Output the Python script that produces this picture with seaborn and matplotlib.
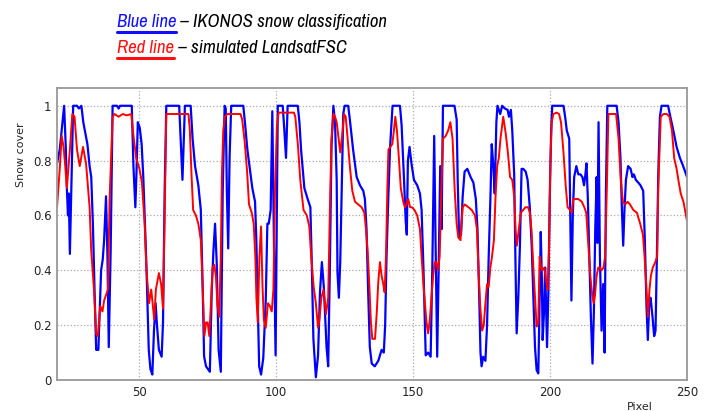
import matplotlib
matplotlib.use('Agg')
from matplotlib import pyplot as plt
from matplotlib import font_manager
from matplotlib.lines import Line2D
import seaborn as sns

# IKONOS snow classification (blue), vertices
blue_x = [20, 21, 22.6, 23.2, 23.6, 24.0, 24.3, 24.7, 25.9, 27.3, 28.0, 28.9, 29.6, 31.1, 31.9, 32.5,
          33.1, 33.7, 34.3, 35.1, 36.1, 36.7, 37.2, 37.9, 38.4, 38.9, 39.6, 40.3, 41.9, 42.5, 43.0,
          47.3, 47.9, 48.6, 49.0, 49.5, 50.2, 50.9, 51.5, 52.0, 52.6, 53.5, 54.1, 54.8, 55.4, 56.0,
          56.5, 57.2, 58.2, 58.7, 59.3, 59.9, 64.6, 65.8, 66.7, 68.8, 69.5, 70.4, 71.6, 72.5, 73.2,
          73.7, 74.4, 75.8, 76.5, 77.1, 77.7, 78.3, 79.0, 79.8, 80.5, 81.2, 81.6, 82.0, 82.5, 83.0,
          83.6, 88.0, 88.6, 89.5, 90.4, 91.3, 92.3, 92.8, 93.3, 93.8, 94.5, 95.3, 96.2, 96.8, 97.3,
          98.0, 98.6, 99.2, 99.8, 100.6, 102.4, 103.0, 103.6, 104.2, 107.9, 108.5, 109.1, 110.3,
          111.5, 112.5, 113.0, 113.6, 114.5, 115.3, 116.0, 116.7, 117.4, 118.4, 119.0, 119.6, 120.2,
          120.9, 121.5, 122.1, 122.4, 122.9, 123.4, 123.9, 124.5, 125.0, 126.3, 126.9, 128.1, 129.4,
          130.6, 131.8, 132.4, 133.0, 133.6, 134.2, 134.9, 136.0, 137.3, 138.5, 139.3, 139.8, 140.3,
          140.9, 141.6, 142.5, 145.2, 145.8, 146.6, 147.3, 147.7, 148.1, 148.7, 149.4, 150.3, 151.5,
          152.5, 153.1, 153.8, 154.6, 155.5, 156.4, 157.0, 157.7, 158.2, 158.8, 159.4, 159.9, 160.4,
          160.9, 165.1, 165.9, 166.3, 166.8, 167.5, 168.1, 168.8, 169.8, 171.0, 172.0, 172.9, 173.5,
          174.1, 174.6, 175.0, 175.6, 176.4, 177.0, 177.6, 178.3, 178.7, 179.3, 179.8, 180.4, 180.8,
          181.8, 182.5, 183.5, 184.5, 185.0, 185.7, 186.2, 186.9, 187.4, 187.8, 188.4, 189.0, 189.6,
          190.2, 191.1, 191.8, 192.6, 193.3, 193.9, 194.5, 195.1, 195.7, 196.1, 196.6, 197.0, 197.3,
          197.8, 198.2, 198.6, 198.9, 199.4, 199.9, 200.4, 200.8, 204.9, 205.5, 206.1, 207.0, 207.4,
          207.8, 208.3, 208.8, 209.6, 210.3, 211.1, 211.8, 212.4, 212.9, 213.3, 213.8, 214.3, 214.9,
          215.5, 216.0, 216.5, 217.0, 217.3, 217.7, 218.2, 218.8, 219.4, 219.9, 220.4, 220.9, 224.3,
          225.0, 225.7, 226.2, 226.7, 227.2, 227.7, 228.5, 229.4, 230.1, 230.6, 231.3, 232.2, 233.0,
          234.0, 234.6, 235.2, 235.7, 236.2, 236.7, 237.4, 238.0, 238.5, 239.0, 239.5, 240.1, 240.7,
          243.1, 243.7, 245.0, 246.2, 247.4, 248.6, 250]
blue_y = [0.79, 0.84, 1.0, 0.85, 0.70, 0.60, 0.68, 0.46, 1.0, 1.0, 0.99, 1.0, 0.94, 0.86, 0.78, 0.74,
          0.57, 0.33, 0.11, 0.11, 0.40, 0.44, 0.51, 0.67, 0.46, 0.12, 0.48, 1.0, 1.0, 0.99, 1.0,
          1.0, 0.78, 0.63, 0.75, 0.94, 0.92, 0.86, 0.74, 0.60, 0.43, 0.11, 0.04, 0.02, 0.18, 0.28,
          0.20, 0.11, 0.085, 0.21, 0.69, 1.0, 1.0, 0.73, 1.0, 1.0, 0.88, 0.78, 0.71, 0.62, 0.33,
          0.086, 0.05, 0.03, 0.33, 0.47, 0.57, 0.43, 0.11, 0.03, 0.69, 1.0, 0.99, 0.69, 0.48, 0.81,
          1.0, 1.0, 0.94, 0.84, 0.77, 0.70, 0.65, 0.50, 0.27, 0.05, 0.02, 0.08, 0.29, 0.57, 0.57,
          0.62, 0.98, 0.50, 0.09, 1.0, 1.0, 0.91, 0.81, 1.0, 1.0, 0.94, 0.84, 0.70,
          0.66, 0.63, 0.43, 0.15, 0.01, 0.09, 0.32, 0.43, 0.34, 0.12, 0.05, 0.40, 0.85,
          1.0, 0.94, 0.73, 0.39, 0.30, 0.43, 0.67, 0.97, 1.0, 1.0, 0.95, 0.84, 0.74,
          0.71, 0.69, 0.66, 0.55, 0.32, 0.12, 0.06, 0.05, 0.07, 0.11, 0.10, 0.20, 0.45,
          0.65, 0.85, 1.0, 1.0, 0.93, 0.75, 0.58, 0.53, 0.80, 0.85, 0.79, 0.73, 0.71,
          0.68, 0.62, 0.40, 0.09, 0.10, 0.085, 0.40, 0.89, 0.50, 0.085, 0.45, 0.78, 0.55,
          1.0, 1.0, 0.95, 0.72, 0.52, 0.53, 0.67, 0.76, 0.77, 0.74, 0.72, 0.66, 0.55,
          0.32, 0.10, 0.05, 0.085, 0.07, 0.20, 0.45, 0.69, 0.86, 0.78, 0.68, 0.94, 1.0,
          0.97, 1.0, 0.99, 0.985, 0.96, 0.985, 0.91, 0.75, 0.41, 0.17, 0.30, 0.49, 0.77,
          0.77, 0.76, 0.73, 0.63, 0.49, 0.30, 0.12, 0.036, 0.024, 0.24, 0.54, 0.37, 0.146,
          0.25, 0.41, 0.25, 0.12, 0.33, 0.67, 0.91, 1.0, 1.0, 0.96, 0.91, 0.88, 0.57,
          0.29, 0.60, 0.74, 0.78, 0.75, 0.75, 0.74, 0.71, 0.75, 0.79, 0.66, 0.47, 0.23,
          0.06, 0.25, 0.55, 0.74, 0.50, 0.94, 0.45, 0.18, 0.35, 0.10, 0.69, 1.0, 1.0,
          0.94, 0.81, 0.63, 0.49, 0.63, 0.73, 0.78, 0.77, 0.74, 0.75, 0.73, 0.72, 0.71,
          0.69, 0.51, 0.27, 0.146, 0.28, 0.30, 0.23, 0.16, 0.18, 0.45, 0.75, 0.96, 1.0,
          1.0, 0.97, 0.91, 0.85, 0.81, 0.78, 0.74]

# simulated LandsatFSC (red)
red_x = [20, 21.0, 21.7, 22.4, 23.0, 23.6, 24.7, 25.6, 26.4, 27.3, 28.3, 29.5, 30.6, 31.9, 32.5, 33.5,
         34.3, 34.9, 35.8, 36.6, 37.2, 37.9, 38.6, 39.2, 40.3, 41.0, 42.5, 44.0, 45.5, 47.1, 47.8,
         48.9, 50.1, 51.0, 52.0, 52.6, 53.6, 54.4, 55.0, 55.5, 56.1, 57.2, 58.0, 58.7, 59.3, 59.9,
         68.0, 68.5, 69.1, 69.7, 70.7, 71.6, 72.5, 73.2, 73.8, 74.4, 75.0, 75.6, 76.1, 76.8, 77.4,
         78.0, 78.6, 79.2, 79.8, 80.2, 80.7, 81.3, 82.2, 87.0, 87.6, 88.5, 89.4, 90.1, 91.1, 91.8,
         92.4, 92.8, 93.3, 93.9, 94.5, 95.0, 95.5, 96.2, 97.0, 97.7, 98.4, 99.0, 99.6, 100.3, 100.9,
         106.5, 107.0, 108.0, 108.8, 110.0, 111.2, 112.1, 112.8, 113.7, 114.5, 115.3, 115.8, 116.5,
         117.3, 118.2, 119.0, 119.6, 120.2, 120.9, 121.5, 122.1, 122.7, 123.4, 124.1, 124.8, 125.4,
         126.1, 126.9, 127.8, 128.8, 130.0, 131.2, 132.2, 132.8, 133.4, 134.0, 134.6, 135.1, 136.1,
         136.7, 137.3, 137.9, 138.5, 139.1, 139.6, 140.1, 140.6, 141.0, 141.7, 142.4, 143.0, 143.5,
         144.1, 144.8, 145.5, 146.4, 147.0, 147.6, 148.2, 148.9, 149.6, 150.5, 151.5, 152.5, 153.1,
         153.9, 154.9, 155.5, 156.1, 156.7, 157.3, 157.9, 158.5, 159.1, 159.7, 160.3, 160.9, 161.9,
         162.8, 163.6, 164.4, 165.2, 165.9, 166.5, 167.3, 168.1, 168.9, 170.2, 171.4, 172.6, 173.3,
         173.9, 174.5, 175.2, 175.8, 176.4, 177.0, 177.6, 178.2, 178.8, 179.5, 180.1, 180.7, 181.3,
         181.9, 182.9, 183.8, 184.6, 185.4, 186.2, 186.9, 187.4, 187.9, 188.6, 189.3, 190.2, 191.0,
         192.0, 192.6, 193.2, 193.9, 194.5, 195.1, 195.7, 196.2, 196.7, 197.2, 197.9, 198.6, 199.1,
         199.6, 200.1, 200.6, 201.2, 202.4, 203.3, 204.0, 204.9, 205.7, 206.4, 207.3, 207.9, 208.5,
         209.4, 210.3, 211.6, 212.5, 213.2, 214.0, 214.7, 215.4, 215.9, 216.4, 217.0, 217.6, 218.2,
         218.8, 219.5, 220.1, 220.7, 221.3, 224.1, 225.0, 225.8, 226.6, 227.4, 228.3, 229.2, 230.4,
         231.7, 232.9, 233.9, 234.5, 235.1, 235.7, 236.3, 236.8, 237.5, 238.4, 239.1, 239.5, 240.4,
         241.4, 242.6, 243.6, 244.5, 245.3, 246.2, 247.0, 247.7, 248.7, 250]
red_y = [0.63, 0.77, 0.89, 0.85, 0.78, 0.70, 0.84, 0.97, 0.96, 0.84, 0.78, 0.85, 0.79, 0.63, 0.47, 0.33,
         0.17, 0.16, 0.27, 0.25, 0.29, 0.31, 0.33, 0.66, 0.96, 0.97, 0.96, 0.97, 0.965, 0.97, 0.90,
         0.81, 0.77, 0.72, 0.57, 0.41, 0.28, 0.33, 0.27, 0.22, 0.33, 0.39, 0.35, 0.26, 0.60, 0.97,
         0.97, 0.91, 0.75, 0.62, 0.60, 0.57, 0.51, 0.33, 0.16, 0.21, 0.21, 0.16, 0.26, 0.41, 0.42,
         0.38, 0.27, 0.23, 0.45, 0.75, 0.91, 0.96, 0.97, 0.97, 0.95, 0.87, 0.76, 0.64, 0.61, 0.57,
         0.45, 0.30, 0.21, 0.45, 0.56, 0.35, 0.22, 0.19, 0.28, 0.27, 0.25, 0.33, 0.70, 0.93, 0.975,
         0.975, 0.96, 0.85, 0.73, 0.62, 0.60, 0.56, 0.45, 0.34, 0.28, 0.19, 0.22, 0.30,
         0.33, 0.24, 0.30, 0.61, 0.88, 0.97, 0.96, 0.94, 0.89, 0.83, 0.89, 0.97, 0.96,
         0.88, 0.78, 0.69, 0.65, 0.64, 0.63, 0.61, 0.55, 0.47, 0.35, 0.21, 0.15, 0.15,
         0.24, 0.36, 0.43, 0.38, 0.35, 0.32, 0.45, 0.70, 0.84, 0.85, 0.86, 0.91, 0.96,
         0.91, 0.81, 0.70, 0.65, 0.63, 0.64, 0.66, 0.63, 0.63, 0.62, 0.60, 0.55, 0.45,
         0.33, 0.21, 0.17, 0.22, 0.30, 0.38, 0.43, 0.43, 0.40, 0.45, 0.69, 0.88, 0.89,
         0.91, 0.94, 0.88, 0.69, 0.57, 0.52, 0.51, 0.63, 0.64, 0.63, 0.62, 0.60, 0.55,
         0.39, 0.27, 0.18, 0.20, 0.28, 0.35, 0.34, 0.41, 0.45, 0.51, 0.67, 0.78, 0.81,
         0.88, 0.96, 0.90, 0.83, 0.74, 0.73, 0.67, 0.55, 0.49, 0.55, 0.61, 0.62, 0.63,
         0.63, 0.61, 0.55, 0.41, 0.30, 0.195, 0.21, 0.45, 0.41, 0.40, 0.41, 0.36, 0.33,
         0.47, 0.79, 0.94, 0.97, 0.975, 0.97, 0.94, 0.83, 0.71, 0.63, 0.62, 0.61, 0.66,
         0.66, 0.66, 0.65, 0.63, 0.61, 0.49, 0.38, 0.31, 0.28, 0.31, 0.38, 0.41, 0.41,
         0.40, 0.41, 0.45, 0.69, 0.97, 0.97, 0.88, 0.73, 0.65, 0.64, 0.65, 0.64, 0.62,
         0.61, 0.57, 0.53, 0.45, 0.35, 0.23, 0.33, 0.38, 0.41, 0.43, 0.45, 0.70, 0.96,
         0.97, 0.97, 0.96, 0.91, 0.81, 0.77, 0.72, 0.68, 0.65, 0.58]

x_ticks = [50, 100, 150, 200, 250]
y_ticks = [0, 0.2, 0.4, 0.6, 0.8, 1]
y_tick_labels = ['0', '0.2', '0.4', '0.6', '0.8', '1']
title_lines = [('Blue line', ' \u2013 IKONOS snow classification', '#1010ff'),
               ('Red line', ' \u2013 simulated LandsatFSC', '#ff1010')]

sns.set_style('white')
plt.rcParams['font.family'] = ['DejaVu Sans']

# narrow italic face for the heading, if one is installed
fonts = font_manager.fontManager.ttflist
narrow = [f.name for f in fonts if 'Narrow' in f.name or 'Condensed' in f.name]
dejavu_cond = any(f.name == 'DejaVu Sans' and str(f.stretch) in ('condensed', 'semi-condensed')
                  for f in fonts)
if narrow:
    title_font, title_stretch = narrow[0], 'normal'
elif dejavu_cond:
    title_font, title_stretch = 'DejaVu Sans', 'condensed'
else:
    title_font, title_stretch = 'Liberation Sans', 'normal'

fig = plt.figure(figsize=(7.09, 4.11), dpi=100)
ax = fig.add_axes([0.0804, 0.0754, 0.8886, 0.7106])

sns.lineplot(x=blue_x, y=blue_y, color='#0000ff', lw=1.6, ax=ax, estimator=None, sort=False)
sns.lineplot(x=red_x, y=red_y, color='#ff0000', lw=1.4, ax=ax, estimator=None, sort=False)

ax.set_xlim(20, 250)
ax.set_ylim(0, 1.065)
ax.set_xticks(x_ticks)
ax.set_yticks(y_ticks)
ax.set_yticklabels(y_tick_labels)
ax.grid(True, ls=':', color='#aaaaaa', lw=0.9)
for s in ax.spines.values():
    s.set_color('#999999')
    s.set_linewidth(1.3)
ax.tick_params(axis='both', labelsize=8.5, length=0, pad=4, colors='#222222')

ax.set_ylabel('Snow cover', fontsize=8)
ax.yaxis.set_label_coords(-0.05, 0.77)
ax.set_xlabel('Pixel', fontsize=8)
ax.xaxis.set_label_coords(0.925, -0.075)

# two-line heading with underlined coloured words; size chosen so line 1 is ~271 px wide
renderer = fig.canvas.get_renderer()
inv = fig.transFigure.inverted()
probe = fig.text(0, 0, title_lines[0][0] + title_lines[0][1], fontsize=17, style='italic',
                 family=title_font, stretch=title_stretch)
w = probe.get_window_extent(renderer).width
probe.remove()
tsize = min(17, 17 * 271 / w)

for (word, rest, col), ybase in zip(title_lines, [0.934, 0.871]):
    t1 = fig.text(0.165, ybase, word, color=col, fontsize=tsize, style='italic',
                  family=title_font, stretch=title_stretch, va='baseline')
    bb = t1.get_window_extent(renderer).transformed(inv)
    fig.text(bb.x1, ybase, rest, color='black', fontsize=tsize, style='italic',
             family=title_font, stretch=title_stretch, va='baseline')
    fig.add_artist(Line2D([bb.x0, bb.x1], [ybase - 0.011] * 2, color=col, lw=2.2,
                          transform=fig.transFigure))

fig.savefig('out.png', dpi=100)
